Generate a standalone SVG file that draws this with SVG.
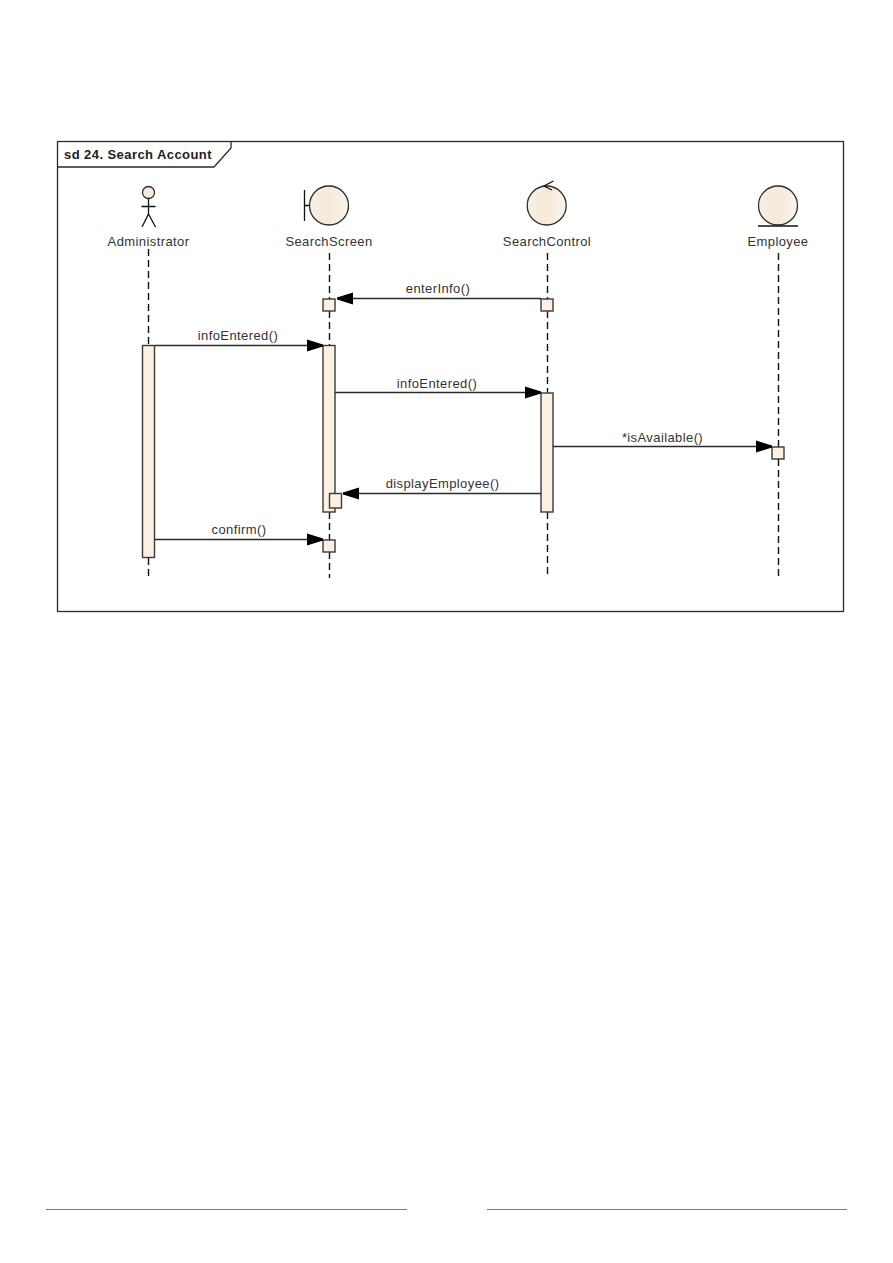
<svg xmlns="http://www.w3.org/2000/svg" width="893" height="1263" viewBox="0 0 893 1263">
  <style>
    .lbl { font-family: "Liberation Sans", Arial, sans-serif; font-size: 13px; letter-spacing: 0.4px; fill: #333; text-anchor: middle; }
    .title { font-family: "Liberation Sans", Arial, sans-serif; font-size: 13px; letter-spacing: 0.43px; font-weight: bold; fill: #222; }
    .frame { fill: none; stroke: #2a2a2a; stroke-width: 1.3; }
    .life { stroke: #111; stroke-width: 1.4; stroke-dasharray: 7 4; fill: none; }
    .act { fill: #fbf0e2; stroke: #3a3a3a; stroke-width: 1.4; }
    .shape { fill: url(#body); stroke: #2e2e2e; stroke-width: 1.3; }
    .line { stroke: #111; stroke-width: 1.3; fill: none; }
    .msg { stroke: #2a2a2a; stroke-width: 1.3; fill: none; marker-end: url(#head); }
    .foot { fill: #4a84c4; }
  </style>
  <defs>
    <linearGradient id="body" x1="0" x2="1" y1="0" y2="0">
      <stop offset="0" stop-color="#f7efe3"/>
      <stop offset="0.5" stop-color="#f6ead9"/>
      <stop offset="1" stop-color="#fbf5ec"/>
    </linearGradient>
    <marker id="head" markerUnits="userSpaceOnUse" markerWidth="17" markerHeight="14" refX="16" refY="6.5" orient="auto">
      <path d="M0 0.5 L16 5.5 L16 7.5 L0 12.5 Z" fill="#000"/>
    </marker>
  </defs>
  <rect width="893" height="1263" fill="#fff"/>

  <g id="frame">
    <rect class="frame" x="57.5" y="141.5" width="786" height="470"/>
    <path class="frame" d="M57.5 167 H214 L231 148 V141.5"/>
    <text class="title" x="64" y="158.5">sd 24. Search Account</text>
  </g>

  <g id="lifelines">
    <path class="life" d="M148.5 249 V345"/>
    <path class="life" d="M148.5 558 V579"/>
    <path class="life" d="M329.5 253 V299"/>
    <path class="life" d="M329.5 311 V345"/>
    <path class="life" d="M329.5 512 V540"/>
    <path class="life" d="M329.5 552 V578"/>
    <path class="life" d="M547.5 253 V299"/>
    <path class="life" d="M547.5 311 V393"/>
    <path class="life" d="M547.5 512 V578"/>
    <path class="life" d="M778.5 253 V447"/>
    <path class="life" d="M778.5 459 V578"/>
  </g>

  <g id="administrator">
    <circle class="shape" cx="148.5" cy="192.5" r="6"/>
    <path class="line" d="M141.5 206.5 H155.5 M148.5 198.5 V214 L142 227 M148.5 214 L155.5 227"/>
    <text class="lbl" x="148.5" y="245.5">Administrator</text>
    <rect class="act" x="142.5" y="345.5" width="12" height="212"/>
  </g>

  <g id="searchscreen">
    <circle class="shape" cx="329" cy="205.5" r="19.5"/>
    <path class="line" d="M304.5 190 V221 M304.5 205.5 H309.5"/>
    <text class="lbl" x="329" y="245.5">SearchScreen</text>
    <rect class="act" x="323" y="299" width="12" height="12"/>
    <rect class="act" x="323" y="345.5" width="12" height="166.5"/>
    <rect class="act" x="329.5" y="493.5" width="12" height="14.5"/>
    <rect class="act" x="323" y="540" width="12" height="12"/>
  </g>

  <g id="searchcontrol">
    <circle class="shape" cx="546.7" cy="205.5" r="19.5"/>
    <path class="line" d="M553.5 181 L544 186 L552 190"/>
    <text class="lbl" x="547" y="245.5">SearchControl</text>
    <rect class="act" x="541" y="299" width="12" height="12"/>
    <rect class="act" x="541" y="393" width="12" height="119"/>
  </g>

  <g id="employee">
    <circle class="shape" cx="778" cy="205.5" r="19.5"/>
    <path class="line" d="M758 226 H798"/>
    <text class="lbl" x="778" y="245.5">Employee</text>
    <rect class="act" x="772" y="447" width="12" height="12"/>
  </g>

  <g id="connectors">
    <path class="msg" d="M541 298.5 H337"/>
    <text class="lbl" x="438" y="292.5">enterInfo()</text>
    <path class="msg" d="M155 345.5 H323"/>
    <text class="lbl" x="238" y="339.5">infoEntered()</text>
    <path class="msg" d="M335 392.5 H541"/>
    <text class="lbl" x="437" y="387.5">infoEntered()</text>
    <path class="msg" d="M553 446.5 H772"/>
    <text class="lbl" x="662.5" y="441.5">*isAvailable()</text>
    <path class="msg" d="M541 493.5 H343"/>
    <text class="lbl" x="442.5" y="487.5">displayEmployee()</text>
    <path class="msg" d="M155 539.5 H323"/>
    <text class="lbl" x="239" y="534">confirm()</text>
  </g>

  <g id="footer">
    <rect class="foot" x="46" y="1209" width="361" height="1"/>
    <rect class="foot" x="487" y="1209" width="360" height="1"/>
  </g>
</svg>
